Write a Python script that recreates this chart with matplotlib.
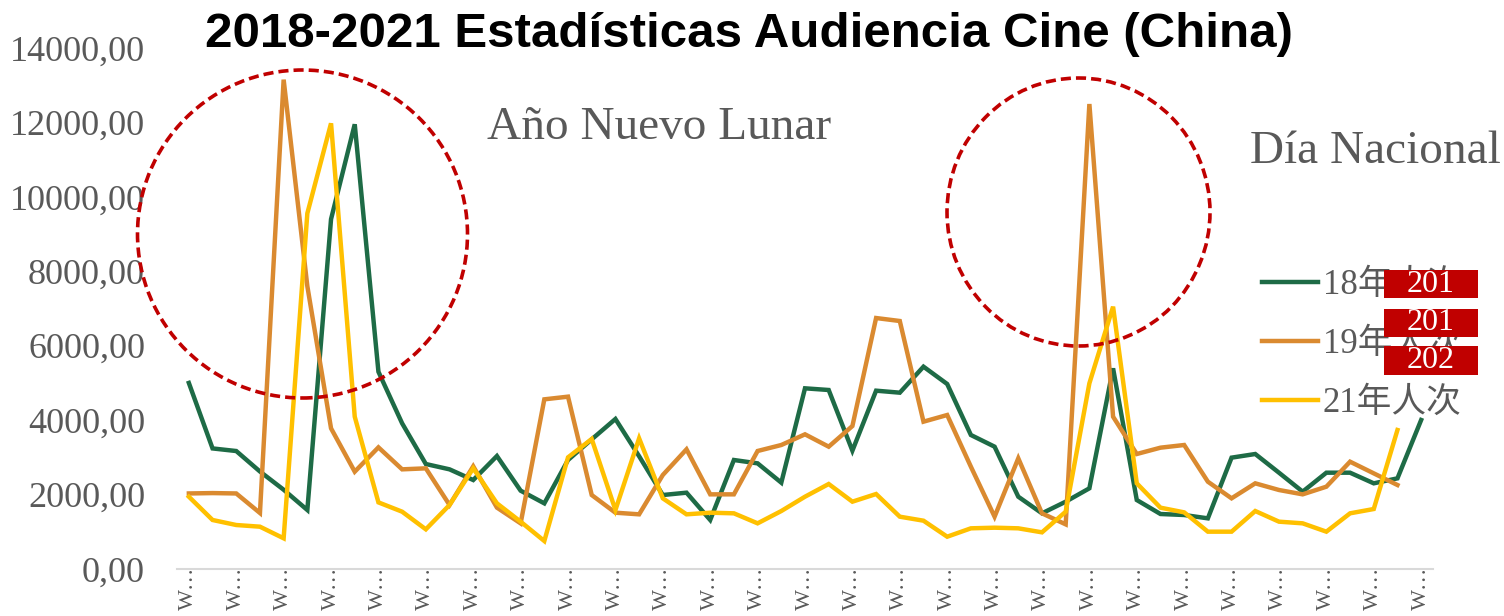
import numpy as np
import matplotlib.pyplot as plt
from matplotlib.patches import Ellipse, Rectangle
from matplotlib.ticker import FuncFormatter
from matplotlib.font_manager import FontProperties

# Weekly audience (thousands)
aud_2018 = [5000, 3240, 3170, 2620, 2130, 1585, 9400, 11950, 5300, 3914,
            2821, 2678, 2391, 3036, 2105, 1764, 2929, 3484, 4031, 3030,
            1988, 2051, 1317, 2929, 2839, 2320, 4855, 4810, 3180, 4792,
            4738, 5437, 4971, 3601, 3287, 1943, 1496, 1809, 2168, 5392,
            1854, 1478, 1451, 1361, 2992, 3090, 2588, 2078, 2588, 2588,
            2302, 2436, 4004]
aud_2019 = [2030, 2040, 2030, 1505, 13150, 7600, 3780, 2615, 3269, 2678,
            2705, 1720, 2760, 1650, 1227, 4559, 4631, 1988, 1513, 1469,
            2526, 3216, 2006, 2006, 3171, 3332, 3619, 3287, 3842, 6744,
            6664, 3959, 4138, 2749, 1406, 2974, 1496, 1200, 12495, 4093,
            3090, 3260, 3332, 2346, 1899, 2302, 2123, 2006, 2212, 2884,
            2570, 2257]
aud_2021 = [1943, 1317, 1182, 1137, 825, 9557, 11976, 4093, 1790, 1540,
            1066, 1720, 2705, 1765, 1272, 752, 3000, 3493, 1585, 3511,
            1899, 1469, 1513, 1496, 1227, 1558, 1943, 2284, 1809, 2015,
            1406, 1298, 868, 1093, 1110, 1093, 985, 1540, 4989, 7049,
            2302, 1648, 1522, 1003, 1003, 1558, 1272, 1227, 1003, 1496,
            1612, 3735]
series_names = ["18年人次", "19年人次", "21年人次"]
week_labels = ["W…"] * 27
box_labels = ["201", "201", "202"]

GRAY = "#595959"
RED = "#C00000"
colors = ["#1E6B46", "#DA8A30", "#FFC000"]

W, H = 1504, 616
fig = plt.figure(figsize=(W / 100, H / 100), dpi=100)
ax = fig.add_axes([177 / W, 47 / H, (1433 - 177) / W, (569 - 48) / H])

for vals, name, c in zip([aud_2018, aud_2019, aud_2021], series_names, colors):
    ax.plot(np.arange(len(vals)), vals, color=c, lw=3.2, label=name,
            solid_joinstyle="miter")

ax.set_xlim(-0.5, 52.5)
ax.set_ylim(0, 14000)
ax.set_yticks(np.arange(0, 14001, 2000))
ax.yaxis.set_major_formatter(FuncFormatter(lambda v, p: f"{v:.2f}".replace(".", ",")))
ax.set_xticks(np.arange(0, 53, 2))
ax.set_xticklabels(week_labels, rotation=90)

for lab in ax.get_yticklabels():
    lab.set_fontfamily("Liberation Serif")
for lab in ax.get_xticklabels():
    lab.set_fontfamily("Liberation Serif")
ax.tick_params(axis="y", length=0, pad=23, labelsize=26, labelcolor=GRAY)
ax.tick_params(axis="x", length=0, pad=-2, labelsize=16, labelcolor=GRAY)

for s in ["top", "right", "left"]:
    ax.spines[s].set_visible(False)
ax.spines["bottom"].set_color("#D9D9D9")
ax.spines["bottom"].set_linewidth(1.5)

# legend
leg_font = FontProperties(family=["Liberation Serif", "Noto Sans CJK SC"], size=25)
leg = ax.legend(loc="upper left", bbox_to_anchor=(1262 / W, 1 - 269 / H),
                bbox_transform=fig.transFigure, frameon=False, prop=leg_font,
                handlelength=1.6, handletextpad=0.15, labelspacing=0.75,
                borderpad=0, borderaxespad=0)
for t in leg.get_texts():
    t.set_color(GRAY)

# red label boxes sitting over the legend
for (y0, y1), txt in zip([(270, 298), (309, 337), (346, 375)], box_labels):
    fig.add_artist(Rectangle((1384 / 100, (H - y1) / 100), 94 / 100, (y1 - y0) / 100,
                             transform=fig.dpi_scale_trans, fc=RED, ec="none", zorder=5))
    fig.text(1431 / W, 1 - (y0 + y1) / 2 / H, txt, color="white", fontsize=23,
             family="Liberation Serif", ha="center", va="center", zorder=6)

# dashed circles around the holiday peaks
for cx, cy, w, h in [(302.5, 234, 330, 328), (1078.5, 212, 263, 268)]:
    fig.add_artist(Ellipse((cx / 100, (H - cy) / 100), w / 100, h / 100,
                           transform=fig.dpi_scale_trans, fill=False, ec=RED,
                           lw=2.6, ls=(0, (2.8, 1.4)), zorder=4))

fig.text(487 / W, 1 - 139 / H, "Año Nuevo Lunar", fontsize=34, color=GRAY,
         family="Liberation Serif", va="baseline")
fig.text(1250 / W, 1 - 163 / H, "Día Nacional", fontsize=34, color=GRAY,
         family="Liberation Serif", va="baseline")

fig.text(749 / W, 1 - 47 / H, "2018-2021 Estadísticas Audiencia Cine (China)",
         fontsize=35.5, fontweight="bold", family="Liberation Sans",
         ha="center", va="baseline", color="black")

fig.savefig("out.png", dpi=100)
